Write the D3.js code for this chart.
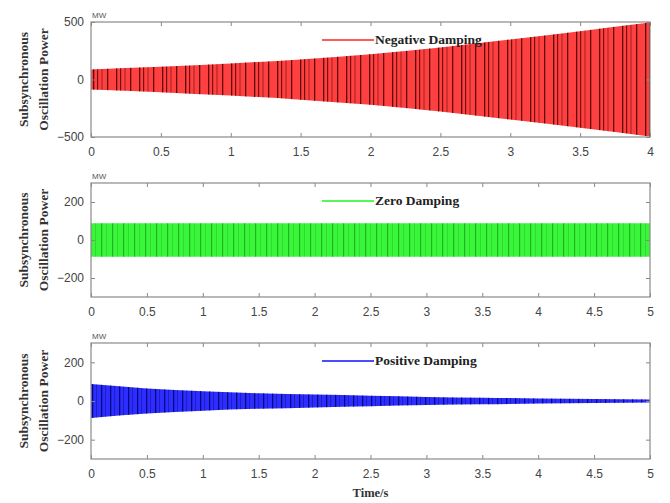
<!DOCTYPE html>
<html>
<head>
<meta charset="utf-8">
<script src="https://cdn.jsdelivr.net/npm/d3@7"></script>
<style>
  body { margin: 0; background: #fff; }
  svg { display: block; }
  .tick text { font-family: "Liberation Sans", Arial, sans-serif; font-size: 12px; fill: #444; }
  .tick line { stroke: #888; }
</style>
</head>
<body>
<div id="chart"></div>
<script>
// envelope amplitude (MW) at each time step
var timesNeg = [0, 0.5, 1, 1.5, 2, 2.5, 3, 3.5, 4];
var ampNeg   = [88, 110, 140, 175, 220, 278, 348, 420, 495];

var timesZero = [0, 0.5, 1, 1.5, 2, 2.5, 3, 3.5, 4, 4.5, 5];
var ampZero   = [88, 88, 88, 88, 88, 88, 88, 88, 88, 88, 88];

var timesPos = [0, 0.5, 1, 1.5, 2, 2.5, 3, 3.5, 4, 4.5, 5];
var ampPos   = [88, 65, 50, 40, 33, 27, 21, 17, 13, 10, 8];

var ticksNeg = [0, 0.5, 1, 1.5, 2, 2.5, 3, 3.5, 4];
var ticks5   = [0, 0.5, 1, 1.5, 2, 2.5, 3, 3.5, 4, 4.5, 5];
var yTicksNeg = [-500, 0, 500];
var yTicks300 = [-200, 0, 200];

var width = 670, height = 503;
var left = 91, right = 650;

var svg = d3.select("#chart").append("svg")
  .attr("width", width)
  .attr("height", height);

var defs = svg.append("defs");

// stripe textures that stand in for the aliasing lines of the dense signal
function stripes(id, w, color, list) {
  var p = defs.append("pattern")
    .attr("id", id)
    .attr("patternUnits", "userSpaceOnUse")
    .attr("width", w)
    .attr("height", 10);
  list.forEach(function(s) {
    p.append("rect")
      .attr("x", s[0]).attr("y", 0)
      .attr("width", s[1]).attr("height", 10)
      .attr("fill", color)
      .attr("opacity", s[2]);
  });
}
stripes("stNeg", 23, "#4a0000", [[1, 1.3, 0.9], [5, 1.2, 0.75], [9.5, 1, 0.5], [15, 1.3, 0.85]]);
stripes("stZero", 11, "#0b8a0b", [[2, 1.2, 0.6], [7, 1, 0.25]]);
stripes("stPos", 9, "#000060", [[2, 1.3, 0.8], [6, 1, 0.35]]);

var panels = [
  { top: 22, bottom: 137, xmax: 4, ymax: 500, times: timesNeg, amp: ampNeg, xt: ticksNeg, yt: yTicksNeg,
    color: "#ff2525", pat: "stNeg", label: "Negative Damping" },
  { top: 183, bottom: 297, xmax: 5, ymax: 300, times: timesZero, amp: ampZero, xt: ticks5, yt: yTicks300,
    color: "#1ff51f", pat: "stZero", label: "Zero Damping" },
  { top: 343, bottom: 459, xmax: 5, ymax: 300, times: timesPos, amp: ampPos, xt: ticks5, yt: yTicks300,
    color: "#1010ff", pat: "stPos", label: "Positive Damping" }
];

panels.forEach(function(p, i) {
  var x = d3.scaleLinear().domain([0, p.xmax]).range([left, right]);
  var y = d3.scaleLinear().domain([-p.ymax, p.ymax]).range([p.bottom, p.top]);
  var data = p.times.map(function(t, j) { return { t: t, a: p.amp[j] }; });

  var g = svg.append("g");

  var area = d3.area()
    .x(function(d) { return x(d.t); })
    .y0(function(d) { return y(-d.a); })
    .y1(function(d) { return y(d.a); })
    .curve(d3.curveMonotoneX);

  g.append("path").datum(data)
    .attr("d", area)
    .attr("fill", p.color)
    .attr("opacity", 0.88);
  g.append("path").datum(data)
    .attr("d", area)
    .attr("fill", "url(#" + p.pat + ")");

  // axes with inward ticks, box on all four sides
  g.append("g")
    .attr("transform", "translate(0," + p.bottom + ")")
    .call(d3.axisBottom(x).tickValues(p.xt).tickFormat(d3.format("")).tickSize(-4).tickPadding(10))
    .call(function(a) { a.select(".domain").remove(); });
  g.append("g")
    .attr("transform", "translate(0," + p.top + ")")
    .call(d3.axisTop(x).tickValues(p.xt).tickFormat("").tickSize(-4))
    .call(function(a) { a.select(".domain").remove(); });
  g.append("g")
    .attr("transform", "translate(" + left + ",0)")
    .call(d3.axisLeft(y).tickValues(p.yt).tickFormat(d3.format("")).tickSize(-4).tickPadding(7))
    .call(function(a) { a.select(".domain").remove(); });
  g.append("g")
    .attr("transform", "translate(" + right + ",0)")
    .call(d3.axisRight(y).tickValues(p.yt).tickFormat("").tickSize(-4))
    .call(function(a) { a.select(".domain").remove(); });

  g.append("rect")
    .attr("x", left).attr("y", p.top)
    .attr("width", right - left).attr("height", p.bottom - p.top)
    .attr("fill", "none")
    .attr("stroke", "#8a8a8a")
    .attr("stroke-width", 1.2);

  // unit above the axes
  g.append("text")
    .attr("x", left + 1).attr("y", p.top - 4)
    .attr("font-family", "Liberation Sans, Arial, sans-serif")
    .attr("font-size", 8)
    .attr("fill", "#555")
    .text("MW");

  // legend
  var ly = p.top + 18;
  g.append("line")
    .attr("x1", 322).attr("x2", 374)
    .attr("y1", ly).attr("y2", ly)
    .attr("stroke", p.color)
    .attr("stroke-width", 1.3);
  g.append("text")
    .attr("x", 375).attr("y", ly + 4)
    .attr("font-family", "Liberation Serif, Times New Roman, serif")
    .attr("font-weight", "bold")
    .attr("font-size", 13.5)
    .attr("fill", "#222")
    .text(p.label);

  // y label, two lines
  var cy = (p.top + p.bottom) / 2;
  var yl = g.append("text")
    .attr("transform", "translate(28," + cy + ") rotate(-90)")
    .attr("text-anchor", "middle")
    .attr("font-family", "Liberation Serif, Times New Roman, serif")
    .attr("font-weight", "bold")
    .attr("font-size", 13.5)
    .attr("fill", "#333");
  yl.append("tspan").attr("x", 0).attr("dy", 0).text("Subsynchronous");
  yl.append("tspan").attr("x", 0).attr("dy", 20).text("Oscillation Power");
});

svg.append("text")
  .attr("x", (left + right) / 2).attr("y", 497)
  .attr("text-anchor", "middle")
  .attr("font-family", "Liberation Serif, Times New Roman, serif")
  .attr("font-weight", "bold")
  .attr("font-size", 12.5)
  .attr("fill", "#333")
  .text("Time/s");
</script>
</body>
</html>
